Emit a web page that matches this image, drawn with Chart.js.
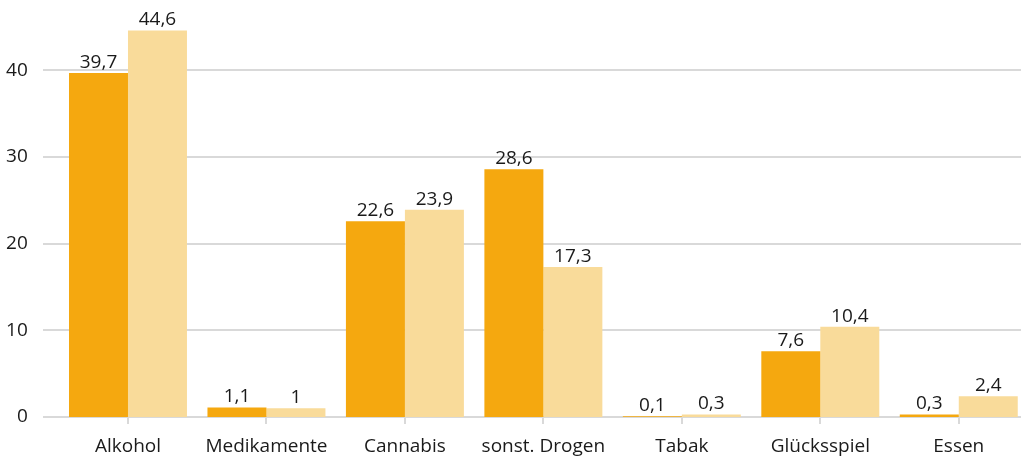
<!DOCTYPE html>
<html lang="de">
<head>
<meta charset="utf-8">
<title>Hauptdiagnosen</title>
<script src="https://cdn.jsdelivr.net/npm/chart.js@4/dist/chart.umd.min.js"></script>
<style>
  html, body { margin: 0; padding: 0; background: #fff; overflow: hidden; }
  #wrap { width: 1030px; height: 459px; }
</style>
</head>
<body>
<div id="wrap"><canvas id="chart" width="1030" height="459"></canvas></div>
<script>
// Kategorien und Werte (Prozent)
const categories = ['Alkohol', 'Medikamente', 'Cannabis', 'sonst. Drogen', 'Tabak', 'Glücksspiel', 'Essen'];
const seriesA = [39.7, 1.1, 22.6, 28.6, 0.1, 7.6, 0.3];
const seriesB = [44.6, 1, 23.9, 17.3, 0.3, 10.4, 2.4];
const yTicks = [0, 10, 20, 30, 40];

const FONT = "'Open Sans', sans-serif";
const FONT_SIZE = 19;
const TEXT = '#1a1a1a';
const GRID = '#d9d9d9';

function fmt(v) {
    return String(v).replace('.', ',');
}

// horizontal grid lines, starting a bit left of the plot area
const gridLines = {
    id: 'gridLines',
    beforeDatasetsDraw: function (chart) {
        const ctx = chart.ctx;
        const y = chart.scales.y;
        ctx.save();
        ctx.strokeStyle = GRID;
        ctx.lineWidth = 2;
        yTicks.forEach(function (t) {
            const py = Math.round(y.getPixelForValue(t));
            ctx.beginPath();
            ctx.moveTo(43, py);
            ctx.lineTo(chart.width, py);
            ctx.stroke();
        });
        ctx.restore();
    }
};

// value labels above each bar
const valueLabels = {
    id: 'valueLabels',
    afterDatasetsDraw: function (chart) {
        const ctx = chart.ctx;
        ctx.save();
        ctx.font = FONT_SIZE + 'px ' + FONT;
        ctx.fillStyle = TEXT;
        ctx.textAlign = 'center';
        ctx.textBaseline = 'bottom';
        chart.data.datasets.forEach(function (ds, i) {
            chart.getDatasetMeta(i).data.forEach(function (bar, j) {
                ctx.fillText(fmt(ds.data[j]), bar.x, bar.y - 1);
            });
        });
        ctx.restore();
    }
};

new Chart(document.getElementById('chart'), {
    type: 'bar',
    data: {
        labels: categories,
        datasets: [
            { label: 'A', data: seriesA, backgroundColor: '#f5a80f' },
            { label: 'B', data: seriesB, backgroundColor: '#f9db9a' }
        ]
    },
    options: {
        responsive: false,
        animation: false,
        layout: { padding: { top: 1, right: 2, left: 0, bottom: 0 } },
        datasets: { bar: { categoryPercentage: 0.852, barPercentage: 1 } },
        plugins: { legend: { display: false }, tooltip: { enabled: false } },
        scales: {
            x: {
                grid: {
                    offset: false,
                    drawOnChartArea: false,
                    tickLength: 7,
                    color: GRID,
                    lineWidth: 2
                },
                border: { display: false },
                ticks: { color: TEXT, font: { family: FONT, size: FONT_SIZE }, padding: 11, maxRotation: 0 },
                afterFit: function (scale) { scale.height = 42; }
            },
            y: {
                min: 0,
                max: 48,
                grid: { display: false, drawTicks: false },
                border: { display: false },
                ticks: { color: TEXT, font: { family: FONT, size: FONT_SIZE }, padding: 31 },
                afterBuildTicks: function (scale) {
                    scale.ticks = yTicks.map(function (v) { return { value: v }; });
                },
                afterFit: function (scale) {
                    // fixed axis width, no extra room above/below the plot
                    scale.width = 58.75;
                    scale.paddingTop = 0;
                    scale.paddingBottom = 0;
                }
            }
        }
    },
    plugins: [gridLines, valueLabels]
});
</script>
</body>
</html>
